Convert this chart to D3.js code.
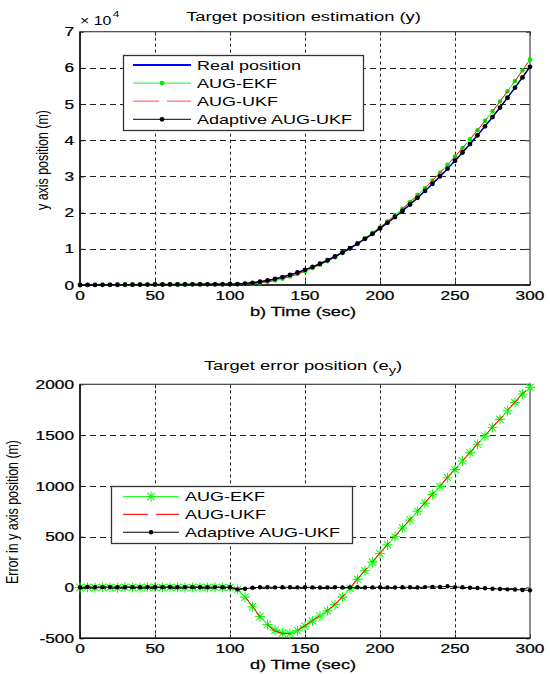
<!DOCTYPE html>
<html>
<head>
<meta charset="UTF-8" />
<title>Target position / error</title>
<script src="https://d3js.org/d3.v7.min.js"></script>
<style>
  body { margin: 0; background: #fff; }
  text { font-family: "Liberation Sans", Arial, sans-serif; fill: #000; }
</style>
</head>
<body>
<div id="chart"></div>
<script>
// time axis (sec), one sample every 5 s
var time = [0,5,10,15,20,25,30,35,40,45,50,55,60,65,70,75,80,85,90,95,
  100,105,110,115,120,125,130,135,140,145,150,155,160,165,170,175,180,185,190,195,
  200,205,210,215,220,225,230,235,240,245,250,255,260,265,270,275,280,285,290,295,300];

// top chart: y position (m)
var realPos = [0,10,25,40,55,70,85,95,110,120,130,140,150,160,165,170,180,185,190,195,
  200,260,400,600,890,1250,1690,2200,2790,3450,
  4190,5000,5880,6840,7870,8980,10160,11420,12750,14150,
  15620,17170,18790,20480,22250,24080,25990,27970,30020,32140,
  34340,36610,38950,41370,43860,46420,49060,51770,54550,57400,
  60330];
var ekfPos = [0,15,20,48,58,66,91,97,104,124,137,137,155,160,160,173,186,183,194,197,
  200,240,305,410,605,885,1270,1752,2338,3025,
  3810,4670,5600,6610,7700,8885,10150,11500,12915,14400,
  15955,17590,19290,21065,22915,24830,26820,28885,31015,33220,
  35500,37855,40275,42780,45350,47995,50715,53510,56370,59305,
  62300];
var ukfPos = [0,12,22,45,57,68,88,96,106,122,134,139,153,161,162,172,184,184,192,196,
  198,245,310,415,600,880,1262,1748,2335,3028,
  3815,4676,5606,6615,7706,8890,10156,11506,12920,14406,
  15960,17594,19296,21070,22920,24836,26826,28890,31020,33226,
  35506,37860,40280,42786,45356,48000,50720,53516,56376,59310,
  62290];
var adaptPos = [2,15,28,44,59,73,88,99,113,124,133,144,155,163,169,174,183,187,194,198,
  203,242,388,598,892,1253,1691,2203,2792,3451,
  4192,5001,5880,6841,7872,8980,10161,11422,12750,14151,
  15622,17171,18790,20483,22252,24080,25994,27976,30025,32152,
  34344,36612,38947,41365,43852,46408,49045,51752,54530,57376,
  60302];

// bottom chart: error in y (m)
var ekfErr = [0,2,-2,3,1,-2,2,1,-2,2,3,-1,2,0,-2,1,3,-1,2,1,
  0,-20,-95,-190,-285,-365,-420,-448,-452,-425,
  -380,-330,-280,-230,-170,-95,-10,80,165,250,
  335,420,500,585,665,750,830,915,995,1080,
  1160,1245,1325,1410,1490,1575,1655,1740,1820,1905,
  1970];
var ukfErr = [0,2,-3,5,2,-2,3,1,-4,2,4,-1,3,1,-3,2,4,-1,2,1,
  -2,-15,-90,-185,-290,-370,-428,-452,-455,-422,
  -375,-324,-274,-225,-164,-90,-4,86,170,256,
  340,424,506,590,670,756,836,920,1000,1086,
  1166,1250,1330,1416,1496,1580,1660,1746,1826,1910,
  1960];
var adaptErr = [0,5,3,4,4,3,3,4,3,4,3,4,5,3,4,4,3,2,4,3,
  3,-18,-12,-2,2,3,1,3,2,1,
  2,1,0,1,2,0,1,2,0,1,
  2,1,0,3,2,0,4,6,5,12,
  4,2,-3,-5,-8,-12,-15,-18,-20,-24,
  -28];

var xTicks = [0,50,100,150,200,250,300];
var yTopTicks = [0,10000,20000,30000,40000,50000,60000,70000];
var yBotTicks = [-500,0,500,1000,1500,2000];

var W = 550, H = 674;
var left = 80, right = 530;
var svg = d3.select("#chart").append("svg").attr("width", W).attr("height", H);

var x = d3.scaleLinear().domain([0, 300]).range([left, right]);
var yTop = d3.scaleLinear().domain([0, 70000]).range([285, 31.7]);
var yBot = d3.scaleLinear().domain([-500, 2000]).range([638.3, 384.3]);

// the source figure is stretched sideways, so text gets a horizontal scale
function stext(g, px, py, str, size, sx, anchor, rot, heavy) {
  var t = g.append("g")
    .attr("transform", "translate(" + px + "," + py + ") scale(" + sx + ",1)" + (rot ? " rotate(" + rot + ")" : ""))
    .append("text")
    .attr("text-anchor", anchor || "start")
    .style("font-size", size + "px");
  if (heavy) t.attr("stroke", "#000").attr("stroke-width", 0.25);
  if (str != null) t.text(str);
  return t;
}

var star = "M-5,0H5M0,-5V5M-3.6,-3.6L3.6,3.6M-3.6,3.6L3.6,-3.6";

function panel(y, ticks, fmt, lbl) {
  var g = svg.append("g");
  var y0 = y.range()[0], y1 = y.range()[1];

  // grid
  g.selectAll(".vg").data(xTicks.slice(1, -1)).enter().append("line")
    .attr("x1", function(d) { return Math.round(x(d)) + 0.5; })
    .attr("x2", function(d) { return Math.round(x(d)) + 0.5; })
    .attr("y1", y1).attr("y2", y0)
    .attr("stroke", "#222").attr("stroke-dasharray", "3,3");
  g.selectAll(".hg").data(ticks.slice(1, -1)).enter().append("line")
    .attr("y1", function(d) { return Math.round(y(d)) + 0.5; })
    .attr("y2", function(d) { return Math.round(y(d)) + 0.5; })
    .attr("x1", left).attr("x2", right)
    .attr("stroke", "#222").attr("stroke-dasharray", "6,4");

  // inward ticks on all four sides
  var xa = d3.axisBottom(x).tickValues(xTicks).tickSizeInner(-4).tickSizeOuter(0).tickFormat("");
  var xa2 = d3.axisTop(x).tickValues(xTicks).tickSizeInner(-4).tickSizeOuter(0).tickFormat("");
  var ya = d3.axisLeft(y).tickValues(ticks).tickSizeInner(-4).tickSizeOuter(0).tickFormat("");
  var ya2 = d3.axisRight(y).tickValues(ticks).tickSizeInner(-4).tickSizeOuter(0).tickFormat("");
  g.append("g").attr("transform", "translate(0," + y0 + ")").call(xa);
  g.append("g").attr("transform", "translate(0," + y1 + ")").call(xa2);
  g.append("g").attr("transform", "translate(" + left + ",0)").call(ya);
  g.append("g").attr("transform", "translate(" + right + ",0)").call(ya2);
  g.selectAll(".domain").remove();
  g.selectAll(".tick line").attr("stroke", "#222");

  // box
  g.append("rect").attr("x", left).attr("y", y1).attr("width", right - left).attr("height", y0 - y1)
    .attr("fill", "none").attr("stroke", "#444").attr("stroke-width", 1.2);
  g.append("path").attr("d", "M" + left + "," + y1 + "V" + y0 + "H" + right)
    .attr("fill", "none").attr("stroke", "#111").attr("stroke-width", 1.6);

  // tick labels
  xTicks.forEach(function(d) { stext(g, x(d), y0 + 15, String(d), 13, 1.33, "middle", 0, true); });
  ticks.forEach(function(d) { stext(g, 74, y(d) + 4.6, fmt(d), 13, 1.33, "end", 0, true); });

  // x label
  stext(g, 303, y0 + 31, lbl, 13, 1.4, "middle", 0, true);
  return g;
}

function series(g, y, vals, color, width, dash) {
  var line = d3.line().x(function(d, i) { return x(time[i]); }).y(function(d) { return y(d); });
  g.append("path").datum(vals).attr("d", line).attr("fill", "none")
    .attr("stroke", color).attr("stroke-width", width)
    .attr("stroke-dasharray", dash || null);
}
function dots(g, y, vals, color, r) {
  g.selectAll(null).data(vals).enter().append("circle")
    .attr("cx", function(d, i) { return x(time[i]); })
    .attr("cy", function(d) { return y(d); })
    .attr("r", r).attr("fill", color);
}
function stars(g, y, vals, color) {
  g.selectAll(null).data(vals).enter().append("path")
    .attr("d", star)
    .attr("transform", function(d, i) { return "translate(" + x(time[i]) + "," + y(d) + ")"; })
    .attr("fill", "none").attr("stroke", color).attr("stroke-width", 1.1);
}

// ---------- top chart ----------
var topG = panel(yTop, yTopTicks, function(d) { return String(d / 10000); }, "b) Time (sec)");
stext(topG, 303.5, 20.5, "Target position estimation (y)", 12.5, 1.47, "middle");
var ex = stext(topG, 80, 25, null, 12, 1.33, "start");
ex.append("tspan").text("\u00d7 10");
ex.append("tspan").attr("dy", -8).attr("dx", 1).style("font-size", "9px").text("4");
stext(topG, 48, 160, "y axis position (m)", 12.4, 1.4, "middle", -90);

series(topG, yTop, ekfPos, "#00ff00", 1);
dots(topG, yTop, ekfPos, "#00ee00", 2.3);
series(topG, yTop, ukfPos, "#ff2020", 1, "26,8");
series(topG, yTop, realPos, "#0000ff", 1.5);
series(topG, yTop, adaptPos, "#000", 1);
dots(topG, yTop, adaptPos, "#000", 2.4);

// top legend
var lg1 = topG.append("g");
lg1.append("rect").attr("x", 123.5).attr("y", 55.5).attr("width", 240).attr("height", 75)
  .attr("fill", "#fff").attr("stroke", "#333").attr("stroke-width", 1.3);
var lt = [
  { name: "Real position", color: "#0000ff", w: 2, mark: null },
  { name: "AUG-EKF", color: "#22ee22", w: 1, mark: "dot", mc: "#00ee00" },
  { name: "AUG-UKF", color: "#ff7070", w: 1.3, dash: "26,8", mark: null },
  { name: "Adaptive AUG-UKF", color: "#000", w: 1, mark: "dot", mc: "#000" }
];
lt.forEach(function(e, i) {
  var yy = 65 + i * 18.1;
  lg1.append("line").attr("x1", 133).attr("x2", 191).attr("y1", yy).attr("y2", yy)
    .attr("stroke", e.color).attr("stroke-width", e.w).attr("stroke-dasharray", e.dash || null);
  if (e.mark) lg1.append("circle").attr("cx", 162).attr("cy", yy).attr("r", 2.4).attr("fill", e.mc);
  stext(lg1, 197, yy + 4.5, e.name, 12, 1.5, "start");
});

// ---------- bottom chart ----------
var botG = panel(yBot, yBotTicks, function(d) { return String(d); }, "d) Time (sec)");
var bt = stext(botG, 303, 369.5, null, 12.5, 1.47, "middle");
bt.append("tspan").text("Target error position (e");
bt.append("tspan").attr("dy", 4).style("font-size", "10px").text("y");
bt.append("tspan").attr("dy", -4).text(")");
stext(botG, 18, 512, "Error in y axis position (m)", 12.4, 1.4, "middle", -90);

series(botG, yBot, ekfErr, "#00ff00", 1);
stars(botG, yBot, ekfErr, "#11ff11");
series(botG, yBot, ukfErr, "#ff0000", 1, "26,8");
series(botG, yBot, adaptErr, "#000", 1);
dots(botG, yBot, adaptErr, "#000", 2.2);

// bottom legend
var lg2 = botG.append("g");
lg2.append("rect").attr("x", 111.5).attr("y", 486.5).attr("width", 241).attr("height", 57)
  .attr("fill", "#fff").attr("stroke", "#333").attr("stroke-width", 1.3);
var lb = [
  { name: "AUG-EKF", color: "#22ff22", mark: "star" },
  { name: "AUG-UKF", color: "#ff2020", dash: "25,8", mark: null },
  { name: "Adaptive AUG-UKF", color: "#000", mark: "dot" }
];
lb.forEach(function(e, i) {
  var yy = 496.5 + i * 17.9;
  lg2.append("line").attr("x1", 123).attr("x2", 179).attr("y1", yy).attr("y2", yy)
    .attr("stroke", e.color).attr("stroke-width", 1.1).attr("stroke-dasharray", e.dash || null);
  if (e.mark === "star") lg2.append("path").attr("d", star).attr("transform", "translate(151," + yy + ")")
    .attr("fill", "none").attr("stroke", "#11ee11").attr("stroke-width", 1.1);
  if (e.mark === "dot") lg2.append("circle").attr("cx", 151).attr("cy", yy).attr("r", 2.3).attr("fill", "#000");
  stext(lg2, 185, yy + 4.5, e.name, 12, 1.5, "start");
});
</script>
</body>
</html>
